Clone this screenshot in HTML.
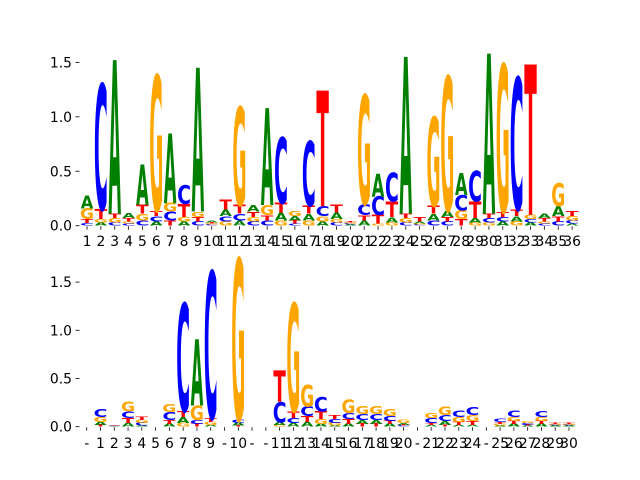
<!DOCTYPE html>
<html><head><meta charset="utf-8"><style>
html,body{margin:0;padding:0;background:#fff;}
svg{display:block;font-family:"DejaVu Sans","Liberation Sans",sans-serif;}
</style></head><body>
<svg id="chart" width="640" height="480" viewBox="0 0 640 480" xmlns="http://www.w3.org/2000/svg">
<g id="top"></g>
<g id="bot"></g>
</svg>
<script>
// Letter heights per position: [A, C, G, T]
const topLabels = Array.from({length:36},(_,i)=>String(i+1));
const topA = [.12,.03,1.41,.05,.37,.04,.64,.04,1.32,.02,.06,.05,.06,.89,.07,.04,.06,.04,.06,.01,.05,.21,.05,1.44,.02,.06,.06,.20,.04,1.47,.04,.05,.03,.04,.09,.02];
const topC = [.025,1.15,.03,.02,.05,.05,.08,.17,.04,.01,.05,.06,.04,.05,.60,.02,.59,.09,.03,.01,.10,.17,.26,.03,.01,.05,.04,.14,.28,.04,.04,1.21,.03,.02,.04,.03];
const topG = [.10,.03,.04,.02,.06,1.24,.08,.04,.05,.01,.04,.90,.04,.09,.05,.05,.05,.05,.03,.01,1.00,.02,.03,.04,.01,.81,1.23,.08,.03,.03,1.35,.04,.04,.02,.21,.04];
const topT = [.035,.09,.04,.03,.08,.05,.05,.12,.04,.01,.09,.08,.05,.05,.09,.03,.07,1.06,.07,.01,.05,.08,.14,.04,.04,.07,.04,.06,.15,.04,.05,.06,1.38,.03,.05,.05];

const botLabels = ["-","1","2","3","4","5","6","7","8","9","-","10","-","-","11","12","13","14","15","16","17","18","19","20","-","21","22","23","24","-","25","26","27","28","29","30"];
const botA = [0,.03,.005,.04,.01,0,.03,.06,.69,.02,0,.03,0,0,.03,.04,.05,.03,.01,.03,.04,.04,.03,.02,0,.02,.04,.02,.02,0,.01,.03,.01,.03,.01,.01];
const botC = [0,.08,.005,.07,.03,0,.08,1.12,.04,1.52,0,.03,0,0,.21,.05,.10,.15,.04,.06,.06,.06,.05,.01,0,.05,.06,.07,.08,0,.03,.07,.02,.06,.01,.01];
const botG = [0,.05,.005,.10,.03,0,.08,.04,.15,.03,0,1.67,0,0,.02,1.12,.22,.05,.03,.14,.08,.08,.07,.03,0,.05,.09,.05,.06,0,.02,.04,.02,.04,.01,.01];
const botT = [0,.02,.005,.05,.03,0,.04,.06,.03,.04,0,.01,0,0,.32,.07,.06,.08,.04,.05,.03,.03,.03,.01,0,.02,.02,.03,.04,0,.02,.03,.01,.03,.01,.01];

const yTicks = [0,0.5,1.0,1.5];
const yTickLabels = ["0.0","0.5","1.0","1.5"];

const NS = "http://www.w3.org/2000/svg";
const COLORS = {A:"#008000",C:"#0000ff",G:"#ffa500",T:"#ff0000"};
const INKW = {A:77,C:66,G:73,T:68};

function drawPanel(g, cfg, labels, A, C, G, T) {
  const xPos = i => cfg.x0 + i*cfg.dx;
  const yPos = v => cfg.y0 - v*cfg.ky;
  // y ticks
  yTicks.forEach((v,i)=>{
    const l = document.createElementNS(NS,"line");
    l.setAttribute("x1",75.5); l.setAttribute("x2",79.5);
    l.setAttribute("y1",yPos(v)); l.setAttribute("y2",yPos(v));
    l.setAttribute("stroke","#000"); l.setAttribute("stroke-width","0.8");
    
    
    g.appendChild(l);
    const t = document.createElementNS(NS,"text");
    t.setAttribute("x",72); t.setAttribute("y",yPos(v)+5);
    t.setAttribute("text-anchor","end"); t.setAttribute("font-size","13.9");
    t.textContent = yTickLabels[i];
    
    
    g.appendChild(t);
  });
  // x ticks
  labels.forEach((lab,i)=>{
    const l = document.createElementNS(NS,"line");
    l.setAttribute("x1",xPos(i)); l.setAttribute("x2",xPos(i));
    l.setAttribute("y1",cfg.y0+0.5); l.setAttribute("y2",cfg.y0+4);
    l.setAttribute("stroke","#000"); l.setAttribute("stroke-width","0.8");
    
    
    g.appendChild(l);
    const t = document.createElementNS(NS,"text");
    t.setAttribute("x",xPos(i)); t.setAttribute("y",cfg.labelY);
    t.setAttribute("text-anchor","middle"); t.setAttribute("font-size","13.9");
    t.textContent = lab;
    
    
    g.appendChild(t);
  });
  // letters
  const w = cfg.dx*0.9;
  labels.forEach((lab,i)=>{
    const stack = [["A",A[i]],["C",C[i]],["G",G[i]],["T",T[i]]].filter(s=>s[1]>0).sort((a,b)=>a[1]-b[1]);
    let base = 0;
    stack.forEach(([ch,h])=>{
      const hp = h*cfg.ky;
      const t = document.createElementNS(NS,"text");
      t.setAttribute("x",0); t.setAttribute("y",0);
      t.setAttribute("text-anchor","middle");
      t.setAttribute("font-size","100");
      t.setAttribute("font-weight","bold");
      t.setAttribute("fill",COLORS[ch]);
      const sx = w/INKW[ch], sy = hp/72.9;
      t.setAttribute("transform",`translate(${xPos(i)},${yPos(base)}) scale(${sx},${sy})`);
      t.textContent = ch;
      
      
      g.appendChild(t);
      base += h;
    });
  });
}

drawPanel(document.getElementById("top"), {x0:87, dx:13.86, y0:225.7, ky:108.9, labelY:246}, topLabels, topA, topC, topG, topT);
drawPanel(document.getElementById("bot"), {x0:86.7, dx:13.78, y0:426.7, ky:96.4, labelY:448}, botLabels, botA, botC, botG, botT);
</script>
</body></html>
